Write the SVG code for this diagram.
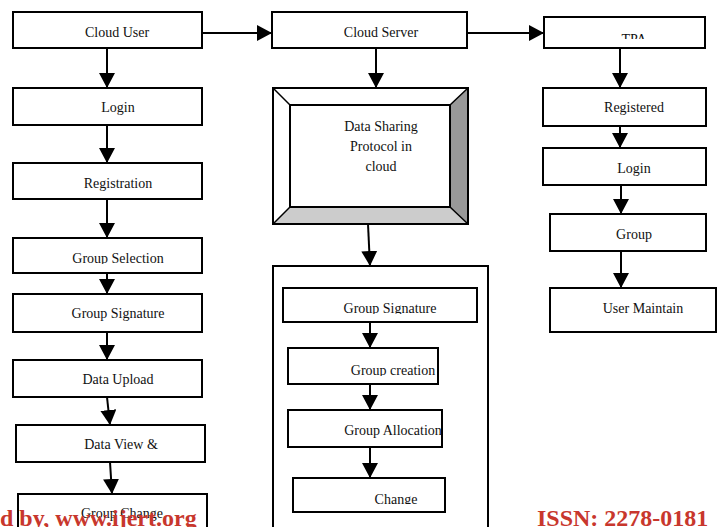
<svg xmlns="http://www.w3.org/2000/svg" width="717" height="527" viewBox="0 0 717 527">
<style>
.box{fill:#fff;stroke:#000;stroke-width:2}
.t{font-family:"Liberation Serif","DejaVu Serif",serif;font-size:14px;fill:#111;text-anchor:middle}
.c{fill:none;stroke:#000;stroke-width:2}
.wm{font-family:"Liberation Serif",serif;font-weight:bold;font-size:24px;fill:#c8372d}
</style>
<defs>
<marker id="ah" viewBox="0 0 15 16" refX="15" refY="8" markerWidth="15" markerHeight="16" markerUnits="userSpaceOnUse" orient="auto">
<path d="M0,0 L15,8 L0,16 Z" fill="#000"/>
</marker>
<clipPath id="cpTPA"><rect x="540" y="0" width="170" height="39"/></clipPath>
<clipPath id="cpGS"><rect x="0" y="0" width="220" height="264"/></clipPath>
<clipPath id="cpGS2"><rect x="280" y="0" width="200" height="314"/></clipPath>
<clipPath id="cpGC"><rect x="280" y="0" width="200" height="376"/></clipPath>
<clipPath id="cpCh"><rect x="280" y="0" width="200" height="504"/></clipPath>
</defs>

<g id="container">
<rect x="273" y="266" width="215" height="270" class="box"/>
</g>

<g id="connectors">
<line x1="202" y1="33" x2="272" y2="33" class="c" marker-end="url(#ah)"/>
<line x1="467" y1="33" x2="544" y2="33" class="c" marker-end="url(#ah)"/>
<line x1="107" y1="48" x2="107" y2="88" class="c" marker-end="url(#ah)"/>
<line x1="107" y1="125" x2="107" y2="163" class="c" marker-end="url(#ah)"/>
<line x1="107" y1="199" x2="107" y2="238" class="c" marker-end="url(#ah)"/>
<line x1="107" y1="273" x2="107" y2="294" class="c" marker-end="url(#ah)"/>
<line x1="107" y1="332" x2="107" y2="360" class="c" marker-end="url(#ah)"/>
<line x1="107" y1="397" x2="110" y2="425" class="c" marker-end="url(#ah)"/>
<line x1="110" y1="462" x2="112" y2="494" class="c" marker-end="url(#ah)"/>
<path d="M78,119 L91,112 L93,125 Z" fill="#000"/>
<line x1="376" y1="48" x2="376" y2="88" class="c" marker-end="url(#ah)"/>
<line x1="368" y1="224" x2="370" y2="266" class="c" marker-end="url(#ah)"/>
<line x1="370" y1="322" x2="370" y2="348" class="c" marker-end="url(#ah)"/>
<line x1="370" y1="382" x2="370" y2="410" class="c" marker-end="url(#ah)"/>
<line x1="370" y1="441" x2="370" y2="478" class="c" marker-end="url(#ah)"/>
<line x1="620" y1="48" x2="620" y2="88" class="c" marker-end="url(#ah)"/>
<line x1="620" y1="126" x2="620" y2="148" class="c" marker-end="url(#ah)"/>
<line x1="621" y1="185" x2="621" y2="214" class="c" marker-end="url(#ah)"/>
<line x1="621" y1="251" x2="621" y2="288" class="c" marker-end="url(#ah)"/>
</g>

<g id="cloud-user"><rect x="13" y="12" width="189" height="36" class="box"/><text x="117" y="37" class="t">Cloud User</text></g>
<g id="login-left"><rect x="13" y="88" width="189" height="37" class="box"/><text x="118" y="112" class="t">Login</text></g>
<g id="registration"><rect x="13" y="163" width="189" height="36" class="box"/><text x="118" y="188" class="t">Registration</text></g>
<g id="group-selection"><rect x="13" y="238" width="189" height="35" class="box"/><text x="118" y="263" class="t" clip-path="url(#cpGS)">Group Selection</text></g>
<g id="group-signature-left"><rect x="13" y="294" width="189" height="38" class="box"/><text x="118" y="318" class="t">Group Signature</text></g>
<g id="data-upload"><rect x="13" y="360" width="189" height="37" class="box"/><text x="118" y="384" class="t">Data Upload</text></g>
<g id="data-view"><rect x="16" y="425" width="189" height="37" class="box"/><text x="121" y="449" class="t">Data View &amp;</text></g>
<g id="group-change"><rect x="18" y="494" width="189" height="40" class="box"/><text x="122" y="518" class="t">Group Change</text></g>

<g id="cloud-server"><rect x="272" y="12" width="195" height="36" class="box"/><text x="381" y="37" class="t">Cloud Server</text></g>

<g id="data-sharing">
<rect x="273" y="88" width="195" height="136" fill="#fff" stroke="none"/>
<polygon points="468,88 468,224 450,207 450,105" fill="#999"/>
<polygon points="273,224 468,224 450,207 290,207" fill="#ccc"/>
<rect x="273" y="88" width="195" height="136" fill="none" stroke="#000" stroke-width="2"/>
<rect x="290" y="105" width="160" height="102" fill="none" stroke="#000" stroke-width="2"/>
<path d="M273,88 L290,105 M468,88 L450,105 M273,224 L290,207 M468,224 L450,207" stroke="#000" stroke-width="1.5"/>
<text x="381" y="131" class="t">Data Sharing</text>
<text x="381" y="151" class="t">Protocol in</text>
<text x="381" y="171" class="t">cloud</text>
</g>

<g id="group-signature-mid"><rect x="283" y="288" width="194" height="34" class="box"/><text x="390" y="313" class="t" clip-path="url(#cpGS2)">Group Signature</text></g>
<g id="group-creation"><rect x="288" y="348" width="150" height="36" class="box"/><text x="393" y="375" class="t" clip-path="url(#cpGC)">Group creation</text></g>
<g id="group-allocation"><rect x="288" y="410" width="154" height="37" class="box"/><text x="393" y="435" class="t">Group Allocation</text></g>
<g id="change"><rect x="293" y="478" width="152" height="34" class="box"/><text x="396" y="504" class="t" clip-path="url(#cpCh)">Change</text></g>

<g id="tpa"><rect x="544" y="17" width="161" height="31" class="box"/><text x="634" y="44" class="t" clip-path="url(#cpTPA)">TPA</text></g>
<g id="registered"><rect x="543" y="88" width="163" height="38" class="box"/><text x="634" y="112" class="t">Registered</text></g>
<g id="login-right"><rect x="543" y="148" width="163" height="37" class="box"/><text x="634" y="173" class="t">Login</text></g>
<g id="group"><rect x="550" y="214" width="156" height="37" class="box"/><text x="634" y="239" class="t">Group</text></g>
<g id="user-maintain"><rect x="550" y="288" width="166" height="44" class="box"/><text x="643" y="313" class="t">User Maintain</text></g>

<g id="watermark">
<text x="0" y="526" class="wm">d by, www.ijert.org</text>
<text x="537" y="526" class="wm">ISSN: 2278-0181</text>
</g>
</svg>
